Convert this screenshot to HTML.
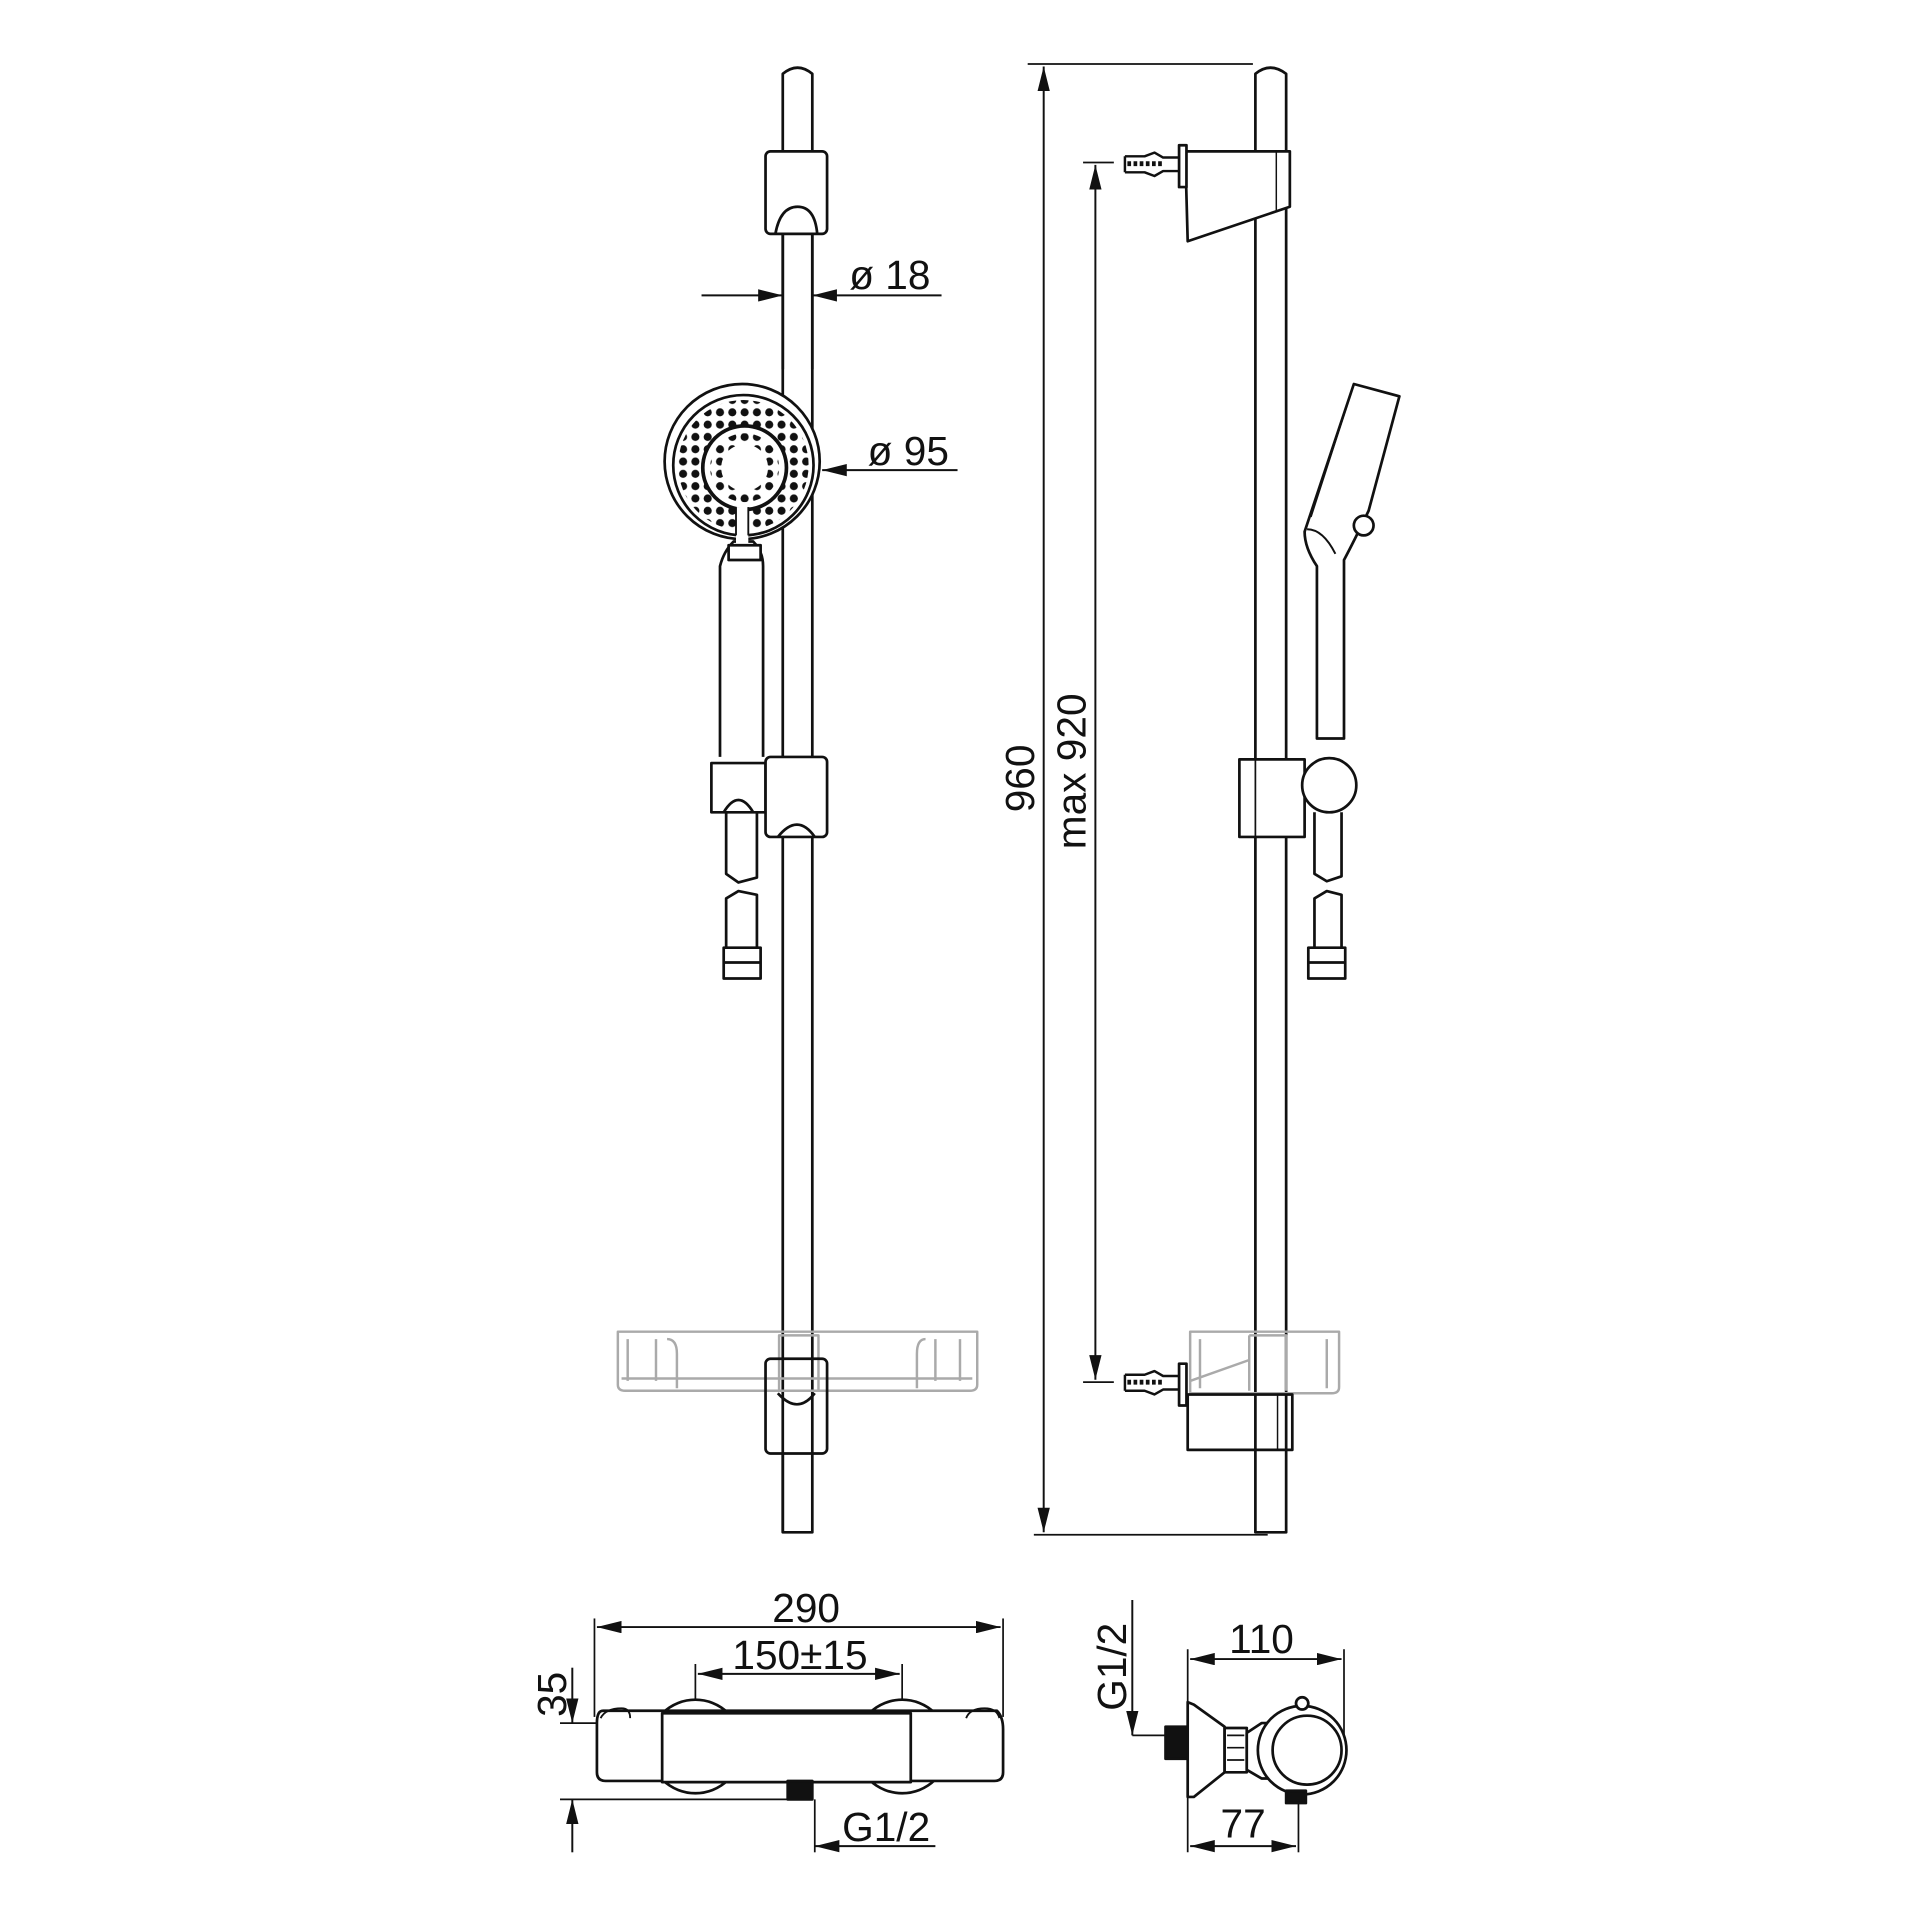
<!DOCTYPE html>
<html><head><meta charset="utf-8"><style>
html,body{margin:0;padding:0;background:#fff;width:1920px;height:1920px;overflow:hidden}
svg{display:block}
text{font-family:"Liberation Sans",sans-serif;fill:#111}
</style></head><body>
<svg width="1920" height="1920" viewBox="0 0 1560 1560" xmlns="http://www.w3.org/2000/svg">
<defs>
<marker id="a" viewBox="0 0 20 10" refX="20" refY="5" markerWidth="20" markerHeight="10" markerUnits="userSpaceOnUse" orient="auto-start-reverse"><path d="M0,0 L20,5 L0,10 z" fill="#111"/></marker>
<pattern id="dots" width="10" height="10" patternUnits="userSpaceOnUse"><circle cx="5" cy="5" r="3.3" fill="#111"/></pattern>
</defs>
<g fill="none" stroke="#111" stroke-width="2.2" stroke-linejoin="round">
<path d="M636,1245 V60 Q648,50 660,60 V1245 Z" fill="#fff"/>
<rect x="622" y="123" width="50" height="67" rx="4" fill="#fff"/>
<path d="M630,190 Q634,168 648,168 Q662,168 664,190" />
<line x1="636" y1="190" x2="636" y2="300"/><line x1="660" y1="190" x2="660" y2="300"/>
<line x1="570" y1="240" x2="636" y2="240" stroke-width="1.6" marker-end="url(#a)"/>
<line x1="765" y1="240" x2="660" y2="240" stroke-width="1.6" marker-end="url(#a)"/>
<path d="M585,615 V460 Q588,448 596,440 L612,440 Q620,448 620,460 V615" fill="#fff"/>
<circle cx="603" cy="375" r="63" fill="#fff"/>
<circle cx="604" cy="378" r="57"/>
<circle cx="604" cy="378" r="53" fill="url(#dots)" stroke="none"/>
<circle cx="605" cy="380" r="34" fill="#fff" stroke-width="3"/>
<circle cx="605" cy="380" r="28" fill="url(#dots)" stroke="none"/>
<circle cx="605" cy="380" r="19" fill="#fff" stroke="none"/>
<rect x="598" y="412" width="10" height="30" fill="#fff" stroke="none"/>
<line x1="598" y1="412" x2="598" y2="435" stroke-width="1.5"/><line x1="608" y1="412" x2="608" y2="435" stroke-width="1.5"/>
<rect x="592" y="443" width="26" height="12" fill="#fff"/>
<line x1="668" y1="382" x2="778" y2="382" stroke-width="1.6" marker-start="url(#a)"/>
<path d="M578,620 H622 V660 H578 Z" fill="#fff"/>
<path d="M588,660 Q600,640 612,660"/>
<rect x="622" y="615" width="50" height="65" rx="4" fill="#fff"/>
<path d="M632,680 Q648,660 662,680"/>
<path d="M590,660 V710 L600,717 L615,713 V660"/>
<path d="M590,795 V730 L600,724 L615,727 V795"/>
<rect x="588" y="770" width="30" height="25" fill="#fff"/>
<line x1="588" y1="782" x2="618" y2="782"/>
<g stroke="#aaa" stroke-width="2">
<path d="M502,1082 H794 V1125 Q794,1130 788,1130 H508 Q502,1130 502,1125 Z"/>
<path d="M510,1088 V1122 M533,1088 V1122 M542,1088 Q550,1088 550,1100 V1128 M780,1088 V1122 M760,1088 V1122 M752,1088 Q745,1088 745,1100 V1128 M505,1120 H790"/>
<rect x="633" y="1085" width="32" height="45"/>
</g>
<rect x="622" y="1104" width="50" height="77" rx="4"/>
<path d="M632,1132 Q648,1150 662,1132"/>
<line x1="636" y1="1181" x2="636" y2="1245"/>
</g>
<text x="690" y="235" font-size="33">ø 18</text>
<text x="705" y="378" font-size="33">ø 95</text>

<g fill="none" stroke="#111" stroke-width="2.2" stroke-linejoin="round">
<path d="M1020,1245 V60 Q1032,50 1045,60 V1245 Z" fill="#fff"/>
<line x1="835" y1="52" x2="1018" y2="52" stroke-width="1.4"/>
<line x1="840" y1="1247" x2="1030" y2="1247" stroke-width="1.4"/>
<line x1="848" y1="54" x2="848" y2="1245" stroke-width="1.6" marker-start="url(#a)" marker-end="url(#a)"/>
<line x1="880" y1="132" x2="905" y2="132" stroke-width="1.4"/>
<line x1="880" y1="1123" x2="905" y2="1123" stroke-width="1.4"/>
<line x1="890" y1="134" x2="890" y2="1121" stroke-width="1.6" marker-start="url(#a)" marker-end="url(#a)"/>
<path d="M963,123 H1048 V168 L965,196 Z" fill="#fff"/>
<line x1="1037" y1="123" x2="1037" y2="172" stroke-width="1.2"/>
<rect x="958" y="118" width="6" height="34" fill="#fff"/>
<path d="M914,127 H930 L938,124 L945,128 H958 M914,140 H930 L938,143 L945,139 H958 M914,127 V140" stroke-width="2"/>
<line x1="916" y1="133" x2="945" y2="133" stroke-width="4" stroke-dasharray="3 2"/>
<rect x="958" y="1108" width="6" height="34" fill="#fff"/>
<path d="M914,1117 H930 L938,1114 L945,1118 H958 M914,1130 H930 L938,1133 L945,1129 H958 M914,1117 V1130" stroke-width="2"/>
<line x1="916" y1="1123" x2="945" y2="1123" stroke-width="4" stroke-dasharray="3 2"/>
<g stroke="#aaa" stroke-width="2">
<path d="M967,1082 H1088 V1127 Q1088,1132 1082,1132 H967 Z"/>
<path d="M975,1088 V1128 M1078,1088 V1128 M967,1122 L1015,1105 M1015,1085 H1045 V1130 M1015,1085 V1130"/>
</g>
<path d="M965,1133 H1050 V1178 H965 Z"/>
<line x1="1038" y1="1133" x2="1038" y2="1178" stroke-width="1.2"/>
<path d="M1060,432 L1100,312 L1137,322 L1112,415 Q1100,440 1092,455 V600 H1070 V460 Q1060,445 1060,432 Z" fill="#fff"/>
<path d="M1100,312 L1065,420 M1062,430 Q1075,430 1085,450" stroke-width="1.6"/>
<circle cx="1108" cy="427" r="8" fill="#fff"/>
<path d="M1007,617 H1060 V680 H1007 Z" fill="#fff"/>
<path d="M1020,617 V680" stroke-width="1.4"/>
<circle cx="1080" cy="638" r="22" fill="#fff"/>
<path d="M1068,660 V710 L1078,716 L1090,712 V660"/>
<path d="M1068,795 V730 L1078,724 L1090,727 V795"/>
<rect x="1063" y="770" width="30" height="25" fill="#fff"/>
<line x1="1063" y1="782" x2="1093" y2="782"/>
</g>
<text transform="translate(840,660) rotate(-90)" font-size="33">960</text>
<text transform="translate(882,690) rotate(-90)" font-size="33">max 920</text>

<g fill="none" stroke="#111" stroke-width="2.2" stroke-linejoin="round">
<line x1="483" y1="1315" x2="483" y2="1395" stroke-width="1.4"/>
<line x1="815" y1="1315" x2="815" y2="1395" stroke-width="1.4"/>
<line x1="485" y1="1322" x2="813" y2="1322" stroke-width="1.6" marker-start="url(#a)" marker-end="url(#a)"/>
<line x1="565" y1="1352" x2="565" y2="1392" stroke-width="1.4"/>
<line x1="733" y1="1352" x2="733" y2="1392" stroke-width="1.4"/>
<line x1="567" y1="1360" x2="731" y2="1360" stroke-width="1.6" marker-start="url(#a)" marker-end="url(#a)"/>
<circle cx="565" cy="1419" r="38" fill="#fff"/>
<circle cx="733" cy="1419" r="38" fill="#fff"/>
<path d="M490,1390 H810 Q815,1395 815,1405 V1440 Q815,1447 808,1447 H492 Q485,1447 485,1440 V1400 Q485,1390 490,1390 Z" fill="#fff"/>
<path d="M488,1396 Q492,1388 505,1388 Q512,1388 512,1396 M785,1396 Q788,1388 800,1388 Q810,1388 812,1396" stroke-width="1.5"/>
<rect x="538" y="1392" width="202" height="56" fill="#fff"/>
<rect x="640" y="1447" width="20" height="15" fill="#111"/>
<line x1="465" y1="1355" x2="465" y2="1400" stroke-width="1.6" marker-end="url(#a)"/>
<line x1="465" y1="1505" x2="465" y2="1462" stroke-width="1.6" marker-end="url(#a)"/>
<line x1="455" y1="1400" x2="485" y2="1400" stroke-width="1.4"/>
<line x1="455" y1="1462" x2="640" y2="1462" stroke-width="1.4"/>
<line x1="662" y1="1462" x2="662" y2="1505" stroke-width="1.4"/>
<line x1="760" y1="1500" x2="662" y2="1500" stroke-width="1.6" marker-end="url(#a)"/>
</g>
<text x="655" y="1318" font-size="33" text-anchor="middle">290</text>
<text x="650" y="1356" font-size="33" text-anchor="middle">150±15</text>
<text transform="translate(460,1395) rotate(-90)" font-size="33">35</text>
<text x="720" y="1496" font-size="33" text-anchor="middle">G1/2</text>

<g fill="none" stroke="#111" stroke-width="2.2" stroke-linejoin="round">
<line x1="920" y1="1300" x2="920" y2="1410" stroke-width="1.6" marker-end="url(#a)"/>
<line x1="920" y1="1410" x2="947" y2="1410" stroke-width="1.4"/>
<line x1="965" y1="1340" x2="965" y2="1505" stroke-width="1.4"/>
<line x1="1092" y1="1340" x2="1092" y2="1435" stroke-width="1.4"/>
<line x1="967" y1="1348" x2="1090" y2="1348" stroke-width="1.6" marker-start="url(#a)" marker-end="url(#a)"/>
<line x1="1055" y1="1455" x2="1055" y2="1505" stroke-width="1.4"/>
<line x1="967" y1="1500" x2="1053" y2="1500" stroke-width="1.6" marker-start="url(#a)" marker-end="url(#a)"/>
<rect x="947" y="1403" width="18" height="26" fill="#111"/>
<path d="M965,1383 L970,1385 L995,1403 V1440 L970,1460 L965,1460 Z" fill="#fff"/>
<rect x="995" y="1404" width="18" height="36" fill="#fff"/>
<path d="M997,1410 H1011 M997,1420 H1011 M997,1430 H1011" stroke-width="1.4"/>
<path d="M1013,1408 L1025,1400 H1040 V1445 H1025 L1013,1438 Z" fill="#fff"/>
<circle cx="1058" cy="1422" r="36" fill="#fff"/>
<circle cx="1062" cy="1422" r="28"/>
<circle cx="1058" cy="1384" r="5" fill="#fff"/>
<rect x="1045" y="1455" width="16" height="10" fill="#111"/>
</g>
<text transform="translate(915,1390) rotate(-90)" font-size="33">G1/2</text>
<text x="1025" y="1343" font-size="33" text-anchor="middle">110</text>
<text x="1010" y="1493" font-size="33" text-anchor="middle">77</text>
</svg>
</body></html>
